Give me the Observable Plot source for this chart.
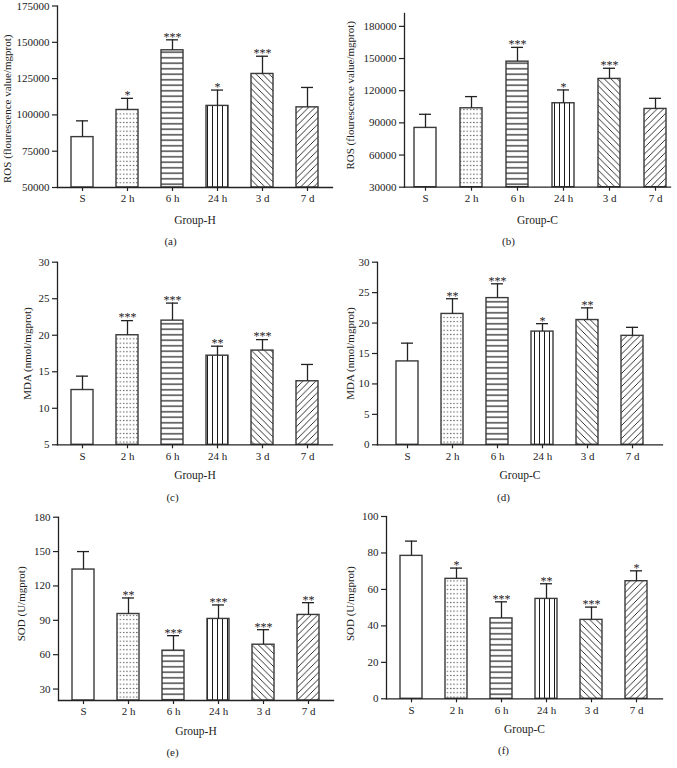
<!DOCTYPE html>
<html><head><meta charset="utf-8">
<script src="https://cdn.jsdelivr.net/npm/d3@7"></script>
<script src="https://cdn.jsdelivr.net/npm/@observablehq/plot@0.6"></script>
<style>
html,body{margin:0;padding:0;background:#fff;}
#wrap{position:relative;width:677px;height:768px;overflow:hidden;background:#fff;}
.panel{position:absolute;}
.panel svg{display:block;overflow:visible;}
</style></head><body>
<svg width="0" height="0" style="position:absolute">
<defs>
<pattern id="pDots" patternUnits="userSpaceOnUse" width="3.3" height="4.3"><rect x="1" y="1.6" width="1.1" height="1.1" fill="#333"/></pattern>
<pattern id="pH" patternUnits="userSpaceOnUse" width="8" height="5.5"><line x1="0" y1="2.75" x2="8" y2="2.75" stroke="#1a1a1a" stroke-width="1.2"/></pattern>
<pattern id="pV" patternUnits="userSpaceOnUse" width="5" height="8"><line x1="2.5" y1="0" x2="2.5" y2="8" stroke="#1a1a1a" stroke-width="1"/></pattern>
<pattern id="pBack" patternUnits="userSpaceOnUse" width="6.5" height="6.5"><path d="M0,0L6.5,6.5M-1.6,4.9L1.6,8.1M4.9,-1.6L8.1,1.6" stroke="#1a1a1a" stroke-width="0.9"/></pattern>
<pattern id="pFwd" patternUnits="userSpaceOnUse" width="6.5" height="6.5"><path d="M0,6.5L6.5,0M-1.6,1.6L1.6,-1.6M4.9,8.1L8.1,4.9" stroke="#1a1a1a" stroke-width="0.9"/></pattern>
</defs></svg>
<div id="wrap"></div>
<script>
// ---- data ----
const categories = ["S", "2 h", "6 h", "24 h", "3 d", "7 d"];

const rosH      = [84700, 103400, 144500, 106200, 128200, 105200];
const rosHErr   = [11200, 8000, 7200, 10900, 12200, 13700];
const rosHSig   = ["", "*", "***", "*", "***", ""];
const rosHTicks = [50000, 75000, 100000, 125000, 150000, 175000];

const rosC      = [85300, 103600, 147100, 108300, 131000, 103000];
const rosCErr   = [12700, 10900, 13300, 12400, 9900, 9900];
const rosCSig   = ["", "", "***", "*", "***", ""];
const rosCTicks = [30000, 60000, 90000, 120000, 150000, 180000];

const mdaH      = [12.5, 20.0, 22.0, 17.2, 17.9, 13.7];
const mdaHErr   = [1.9, 2.0, 2.4, 1.3, 1.5, 2.3];
const mdaHSig   = ["", "***", "***", "**", "***", ""];
const mdaHTicks = [5, 10, 15, 20, 25, 30];

const mdaC      = [13.7, 21.5, 24.1, 18.6, 20.5, 17.9];
const mdaCErr   = [3.0, 2.5, 2.35, 1.3, 2.0, 1.4];
const mdaCSig   = ["", "**", "***", "*", "**", ""];
const mdaCTicks = [0, 5, 10, 15, 20, 25, 30];

const sodH      = [134.3, 95.5, 63.5, 91.2, 68.7, 94.7];
const sodHErr   = [15.7, 14.0, 13.1, 12.2, 13.1, 10.7];
const sodHSig   = ["", "**", "***", "***", "***", "**"];
const sodHTicks = [30, 60, 90, 120, 150, 180];

const sodC      = [78.4, 65.8, 44.1, 54.8, 43.3, 64.5];
const sodCErr   = [8.1, 5.9, 9.1, 8.3, 7.0, 5.7];
const sodCSig   = ["", "*", "***", "**", "***", "*"];
const sodCTicks = [0, 20, 40, 60, 80, 100];

const rosLabel = "ROS (flourescence value/mgprot)";
const mdaLabel = "MDA (nmol/mgprot)";
const sodLabel = "SOD (U/mgprot)";

// ---- styles / layout ----
const fills = ["#ffffff", "url(#pDots)", "url(#pH)", "url(#pV)", "url(#pBack)", "url(#pFwd)"];
const FONT = "'Liberation Serif', 'Times New Roman', 'DejaVu Serif', serif";

const panels = [
  {v: rosH, e: rosHErr, s: rosHSig, t: rosHTicks, dom: [50000, 175000], yl: rosLabel, xl: "Group-H", cap: "(a)",
   left: 0, top: 0, w: 337, h: 255, ml: 57, mr: 5, mt: 5.5, bot: 187, c0: 79.5, c5: 308.5, ydx: -50, ydy: 12, xdy: 33, cdy: 54, capX: 170},
  {v: rosC, e: rosCErr, s: rosCSig, t: rosCTicks, dom: [30000, 192000], yl: rosLabel, xl: "Group-C", cap: "(b)",
   left: 337, top: 0, w: 340, h: 255, ml: 67, mr: 7, mt: 13, bot: 186.7, c0: 87.7, c5: 317.7, ydx: -54, ydy: -5, xdy: 33, cdy: 54, capX: 171},
  {v: mdaH, e: mdaHErr, s: mdaHSig, t: mdaHTicks, dom: [5, 30], yl: mdaLabel, xl: "Group-H", cap: "(c)",
   left: 0, top: 255, w: 337, h: 255, ml: 57, mr: 5, mt: 6.7, bot: 189.3, c0: 80, c5: 308.3, ydx: -30, ydy: 0, xdy: 31, cdy: 53, capX: 172},
  {v: mdaC, e: mdaCErr, s: mdaCSig, t: mdaCTicks, dom: [0, 30], yl: mdaLabel, xl: "Group-C", cap: "(d)",
   left: 337, top: 255, w: 340, h: 255, ml: 40, mr: 15, mt: 6.7, bot: 189.3, c0: 68.3, c5: 296.7, ydx: -27, ydy: 0, xdy: 31, cdy: 53, capX: 166},
  {v: sodH, e: sodHErr, s: sodHSig, t: sodHTicks, dom: [20, 180], yl: sodLabel, xl: "Group-H", cap: "(e)",
   left: 0, top: 510, w: 337, h: 258, ml: 58, mr: 4, mt: 6.7, bot: 190, c0: 81, c5: 310, ydx: -37, ydy: -5, xdy: 31, cdy: 52, capX: 172},
  {v: sodC, e: sodCErr, s: sodCSig, t: sodCTicks, dom: [0, 100], yl: sodLabel, xl: "Group-C", cap: "(f)",
   left: 337, top: 510, w: 340, h: 258, ml: 49, mr: 15, mt: 6, bot: 188.3, c0: 71.7, c5: 301, ydx: -36, ydy: -4, xdy: 31, cdy: 52, capX: 166}
];

const ink = "#222";
const wrap = document.getElementById("wrap");

for (const p of panels) {
  const data = categories.map((c, i) => ({cat: c, v: p.v[i], top: p.v[i] + p.e[i], sig: p.s[i], fill: fills[i]}));
  const step = (p.c5 - p.c0) / 5;
  const bw = 22;
  const frameCx = (p.ml + (p.w - p.mr)) / 2;
  const chart = Plot.plot({
    width: p.w, height: p.h,
    marginLeft: p.ml, marginRight: p.mr, marginTop: p.mt, marginBottom: p.h - p.bot,
    style: {fontFamily: FONT, fontSize: "11px", color: ink, background: "transparent"},
    x: {domain: categories, range: [p.c0 - bw / 2, p.c5 + bw / 2], paddingInner: 1 - bw / step, paddingOuter: 0, align: 0.5},
    y: {domain: p.dom},
    color: {type: "identity"},
    marks: [
      Plot.barY(data, {x: "cat", y1: p.dom[0], y2: "v", fill: "fill", stroke: "#3a3a3a", strokeWidth: 1.4}),
      Plot.ruleX(data, {x: "cat", y1: "v", y2: "top", stroke: ink, strokeWidth: 1.3}),
      Plot.tickY(data, {x: "cat", y: "top", insetLeft: 5, insetRight: 5, stroke: ink, strokeWidth: 1.3}),
      Plot.text(data, {x: "cat", y: "top", text: "sig", dy: -3, fontSize: 12, fill: "#222"}),
      Plot.axisY({ticks: p.t, tickFormat: d3.format("d"), tickSize: 5, tickPadding: 3, label: null, stroke: ink, strokeWidth: 1.2}),
      Plot.axisX({tickSize: 4, tickPadding: 3, label: null, stroke: ink, strokeWidth: 1.2}),
      Plot.frame({anchor: "left", stroke: ink, strokeWidth: 1.3}),
      Plot.frame({anchor: "bottom", stroke: ink, strokeWidth: 1.3}),
      Plot.text([p.yl], {frameAnchor: "left", textAnchor: "middle", lineAnchor: "middle", rotate: -90, dx: p.ydx, dy: p.ydy, text: d => d, fontSize: 11, fill: ink}),
      Plot.text([p.xl], {frameAnchor: "bottom", textAnchor: "middle", lineAnchor: "middle", dy: p.xdy, text: d => d, fontSize: 11.5, fill: ink}),
      Plot.text([p.cap], {frameAnchor: "bottom", textAnchor: "middle", lineAnchor: "middle", dx: p.capX - frameCx, dy: p.cdy, text: d => d, fontSize: 11, fill: ink})
    ]
  });
  const div = document.createElement("div");
  div.className = "panel";
  div.style.left = p.left + "px";
  div.style.top = p.top + "px";
  div.appendChild(chart);
  wrap.appendChild(div);
}
</script>
</body></html>
